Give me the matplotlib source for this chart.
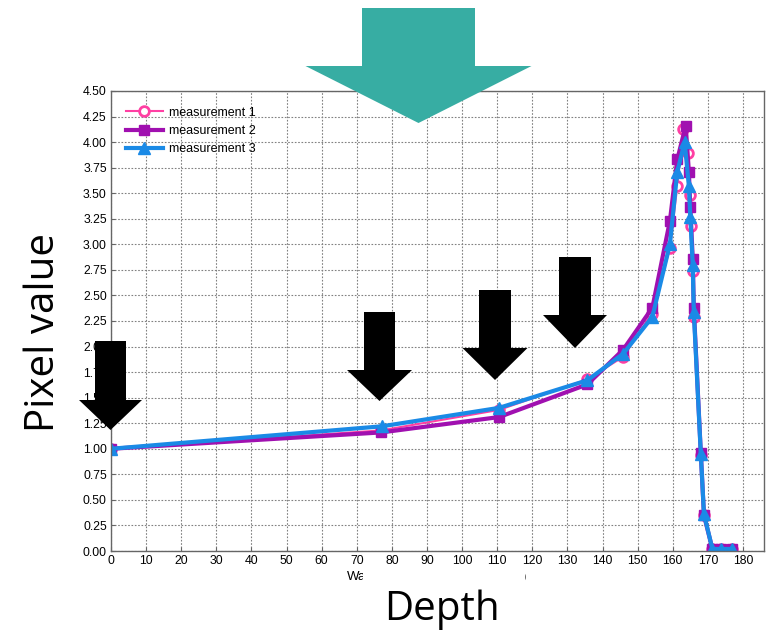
import matplotlib
matplotlib.use("Agg")
import matplotlib.pyplot as plt
from matplotlib.patches import Polygon, Rectangle
import numpy as np

plt.rcParams["font.family"] = ["Liberation Sans", "DejaVu Sans"]

W, H = 775, 635

x1 = [0, 77, 110.5, 135.7, 145.9, 154.0, 159.2, 161.3, 163.0, 164.3, 164.8, 165.2, 165.7, 166.0, 168.0, 168.9, 171.3, 173.7, 177.0]
y1 = [1.00, 1.18, 1.38, 1.68, 1.90, 2.32, 2.96, 3.57, 4.13, 3.89, 3.48, 3.18, 2.74, 2.29, 0.94, 0.35, 0.02, 0.02, 0.02]
x2 = [0, 77, 110.5, 135.7, 145.9, 154.2, 159.2, 161.3, 163.7, 164.6, 165.0, 165.7, 166.0, 168.0, 168.9, 171.3, 173.7, 177.0]
y2 = [1.00, 1.16, 1.31, 1.63, 1.97, 2.38, 3.23, 3.83, 4.16, 3.71, 3.37, 2.86, 2.38, 0.96, 0.35, 0.02, 0.02, 0.02]
x3 = [0, 77.2, 110.5, 135.7, 145.9, 154.2, 159.2, 161.3, 163.4, 164.6, 165.0, 165.7, 166.0, 168.0, 168.9, 171.3, 173.7, 177.0]
y3 = [1.00, 1.22, 1.40, 1.67, 1.93, 2.29, 3.00, 3.71, 4.00, 3.57, 3.27, 2.80, 2.34, 0.95, 0.36, 0.02, 0.02, 0.02]
labels = ["measurement 1", "measurement 2", "measurement 3"]

xticks = np.arange(0, 181, 10)
yticks = np.arange(0, 4.51, 0.25)

fig = plt.figure(figsize=(W / 100, H / 100), dpi=100)
ax = fig.add_axes([111 / W, 1 - 551 / H, 653 / W, 460 / H])

ax.plot(x1, y1, "-o", color="#ff3fa3", lw=1.5, ms=7, mfc="white", mec="#ff3fa3", mew=2, label=labels[0])
ax.plot(x2, y2, "-s", color="#a010b0", lw=3, ms=7, mfc="#a010b0", mec="#a010b0", label=labels[1])
ax.plot(x3, y3, "-^", color="#1a8ae6", lw=3, ms=9, mfc="#1a8ae6", mec="#1a8ae6", label=labels[2])

ax.set_xlim(0, 186)
ax.set_ylim(0, 4.5)
ax.set_xticks(xticks)
ax.set_yticks(yticks)
ax.set_yticklabels([f"{v:.2f}" for v in yticks])
ax.tick_params(direction="in", length=3, color="#666666", labelsize=8.8, pad=3)
ax.grid(True, ls=(0, (1.5, 1.5)), color="#808080", lw=0.8)
for s in ax.spines.values():
    s.set_color("#666666")
    s.set_linewidth(1)

ax.legend(loc="upper left", bbox_to_anchor=(0.009, 0.985), frameon=False, fontsize=9,
          handlelength=3.0, labelspacing=0.5, handletextpad=0.5, borderaxespad=0.3)

# remains of the original x label, partly covered
fig.text(347 / W, 1 - 577 / H, "Wa", fontsize=9.5, va="center", ha="left")
fig.text(522 / W, 1 - 577 / H, ")", fontsize=9.5, va="center", ha="left")
fig.patches.append(Rectangle((363 / W, 1 - 590 / H), 159 / W, 25 / H, transform=fig.transFigure,
                             facecolor="white", edgecolor="none", zorder=5))
fig.patches.append(Rectangle((520 / W, 1 - 590 / H), 4.5 / W, 25 / H, transform=fig.transFigure,
                             facecolor="white", edgecolor="none", zorder=5))

# big overlay labels
fig.text(442 / W, 1 - 610 / H, "Depth", fontsize=29, family=["Open Sans", "DejaVu Sans"],
         ha="center", va="center", zorder=10)
fig.text(44 / W, 1 - 332 / H, "Pixel value", fontsize=29, family=["Open Sans", "DejaVu Sans"],
         rotation=90, ha="center", va="center", zorder=10)


def down_arrow(cx, top, shaft_w, head_y, head_w, tip, color):
    pts = [(cx - shaft_w / 2, top), (cx + shaft_w / 2, top), (cx + shaft_w / 2, head_y),
           (cx + head_w / 2, head_y), (cx, tip), (cx - head_w / 2, head_y), (cx - shaft_w / 2, head_y)]
    pts = [(px / W, 1 - py / H) for px, py in pts]
    fig.patches.append(Polygon(pts, closed=True, transform=fig.transFigure,
                               facecolor=color, edgecolor="none", zorder=20))


down_arrow(418.5, 8, 113, 66, 226, 123, "#37ada3")
down_arrow(110.5, 341, 31, 400, 63, 430, "black")
down_arrow(379.5, 312, 31, 370, 65, 401, "black")
down_arrow(495, 290, 32, 348, 65, 380, "black")
down_arrow(575, 257, 32, 315, 64, 348, "black")

fig.savefig("out.png", dpi=100)
